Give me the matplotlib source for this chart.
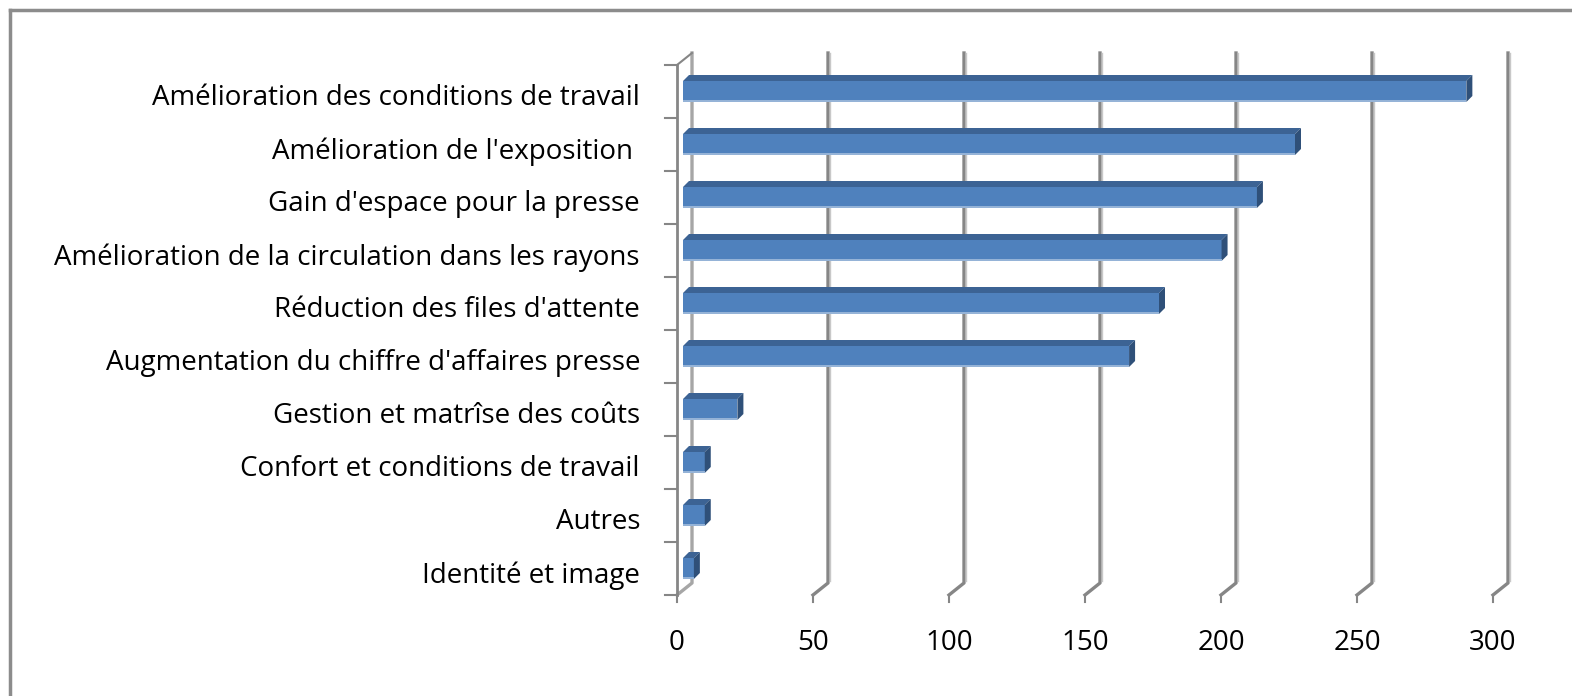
import matplotlib
matplotlib.use("Agg")
import matplotlib.pyplot as plt
from matplotlib.patches import Polygon, Rectangle
from matplotlib.lines import Line2D

# Data (top to bottom as in the chart)
categories = [
    "Amélioration des conditions de travail",
    "Amélioration de l'exposition ",
    "Gain d'espace pour la presse",
    "Amélioration de la circulation dans les rayons",
    "Réduction des files d'attente",
    "Augmentation du chiffre d'affaires presse",
    "Gestion et matrîse des coûts",
    "Confort et conditions de travail",
    "Autres",
    "Identité et image",
]
values = [288, 225, 211, 198, 175, 164, 20, 8, 8, 4]
xticks = [0, 50, 100, 150, 200, 250, 300]

W, H = 1572, 696
DPI = 100
plt.rcParams['font.family'] = ['Open Sans', 'DejaVu Sans']

fig = plt.figure(figsize=(W / DPI, H / DPI), dpi=DPI)

# plot area in pixels (front plane)
x0_px, x1_px = 677, 1493
ytop_px, ybot_px = 65, 595
ax = fig.add_axes([x0_px / W, 1 - ybot_px / H, (x1_px - x0_px) / W, (ybot_px - ytop_px) / H])
ax.set_xlim(0, 300)
ax.set_ylim(len(categories) - 0.5, -0.5)
ax.axis('off')

# pixel -> data helpers
ppx = (x1_px - x0_px) / 300.0
ppy = (ybot_px - ytop_px) / len(categories)
def dxp(p):
    return p / ppx
def dyp(p):
    return -p / ppy  # up on screen is negative in data (inverted axis)

# back wall offset
bx, by = 15, 12
top, bot = -0.5, len(categories) - 0.5

# gridlines on the back wall + diagonal on the floor + small tick
for t in xticks:
    col = '#a6a6a6' if t == 0 else '#868686'
    xs = [t + dxp(bx), t + dxp(bx), t]
    ys = [top + dyp(by), bot + dyp(by), bot]
    ax.add_line(Line2D(xs, ys, color=col, lw=2.4, zorder=1, clip_on=False))
    if t != 0:
        ax.add_line(Line2D([t + dxp(bx + 2)] * 2, [top + dyp(by), bot + dyp(by + 2)],
                           color='#c8c8c8', lw=1.0, zorder=1, clip_on=False))
    ax.add_line(Line2D([t, t], [bot, bot + dyp(-7)], color='#868686', lw=1.5,
                       zorder=1, clip_on=False))

# top-left diagonal and left axis line with ticks
ax.add_line(Line2D([0, dxp(bx)], [top, top + dyp(by)], color='#868686', lw=1.5, zorder=1, clip_on=False))
ax.add_line(Line2D([0, 0], [top, bot], color='#868686', lw=2.0, zorder=2, clip_on=False))
for k in range(len(categories) + 1):
    yk = -0.5 + k
    ax.add_line(Line2D([dxp(-12), 0], [yk, yk], color='#868686', lw=1.5, zorder=2, clip_on=False))

# 3D-like bars
front = '#4f81bd'
topc = '#3c6394'
side = '#2f5079'
light = '#95b3d7'
bh = 21 / ppy
off = dxp(6)
d_x, d_y = dxp(6), dyp(6)
for i, v in enumerate(values):
    yc = i + 0.0
    y_t = yc - bh / 2
    y_b = yc + bh / 2
    xl, xr = off, off + v
    # front face
    ax.add_patch(Rectangle((xl, y_t), v, bh, facecolor=front, edgecolor='none', zorder=4))
    # lighter bottom edge
    ax.add_patch(Rectangle((xl, y_b - 2 / ppy), v, 2 / ppy, facecolor=light, edgecolor='none', zorder=5))
    # top face
    ax.add_patch(Polygon([(xl, y_t), (xr, y_t), (xr + d_x, y_t + d_y), (xl + d_x, y_t + d_y)],
                         closed=True, facecolor=topc, edgecolor='none', zorder=4))
    # side face
    ax.add_patch(Polygon([(xr, y_t), (xr + d_x, y_t + d_y), (xr + d_x, y_b + d_y), (xr, y_b)],
                         closed=True, facecolor=side, edgecolor='none', zorder=4))

# category labels
for i, c in enumerate(categories):
    ax.text(dxp(-37), i + 0.13, c, ha='right', va='center', fontsize=20, color='black')

# x tick labels
for t in xticks:
    ax.text(t, bot + 48 / ppy, str(t), ha='center', va='center', fontsize=20, color='black')

# chart border (top and left visible)
fig.add_artist(Line2D([10 / W, 10 / W], [0, 1 - 10 / H], color='#8c8c8c', lw=2.5))
fig.add_artist(Line2D([10 / W, 1], [1 - 10 / H, 1 - 10 / H], color='#8c8c8c', lw=2.5))

fig.savefig('out.png', dpi=DPI, facecolor='white')
